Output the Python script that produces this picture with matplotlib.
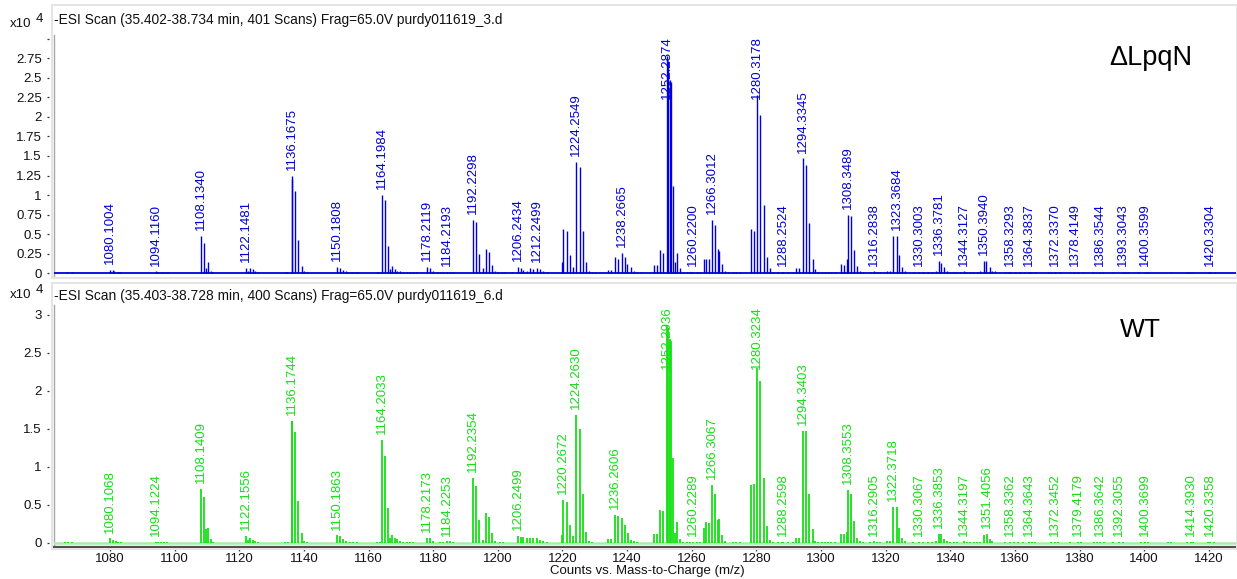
import matplotlib
matplotlib.use("Agg")
import matplotlib.pyplot as plt
from matplotlib.patches import Rectangle

plt.rcParams['font.family'] = ['Liberation Sans', 'DejaVu Sans']

W, H, DPI = 1237, 579, 100

# ---------------- spectra: (m/z, counts x 10^4) ----------------
dlpqn_peaks = [
    (1066.6, .015), (1068.1, .015),
    (1080.1004, .045), (1080.8, .04), (1081.3, .03), (1082.1, .015), (1082.7, .012), (1083.2, .012),
    (1094.1160, .02), (1094.9, .015), (1095.8, .015), (1096.5, .012), (1097.3, .012), (1098.0, .01),
    (1108.1340, .48), (1109.1, .38), (1109.6, .07), (1110.4, .14), (1111.2, .03), (1112.0, .012),
    (1122.1481, .07), (1122.8, .03), (1123.3, .07), (1124.1, .05), (1124.8, .03), (1125.7, .015),
    (1134.1, .012), (1134.8, .012), (1136.1675, 1.25), (1136.45, 1.2), (1137.3, 1.05), (1138.25, .42),
    (1139.3, .09), (1140.0, .03), (1140.8, .015),
    (1150.1808, .08), (1151.1, .07), (1152.2, .04), (1153.0, .02), (1153.7, .012), (1154.5, .012),
    (1155.3, .012), (1156.1, .012), (1156.8, .012),
    (1162.5, .012), (1163.3, .012), (1164.1984, 1.0), (1165.2, .93), (1166.1, .34), (1166.6, .05),
    (1167.2, .09), (1168.1, .05), (1168.9, .03), (1169.7, .02), (1170.7, .012), (1171.8, .012),
    (1172.8, .012), (1173.8, .012), (1174.8, .012),
    (1178.2119, .08), (1179.0, .07), (1180.0, .03), (1181.1, .015), (1182.1, .015), (1183.1, .012),
    (1184.2193, .015), (1185.2, .015), (1186.2, .012),
    (1192.2298, .68), (1193.2, .65), (1194.3, .24), (1195.3, .06), (1196.2, .31), (1197.2, .27),
    (1198.3, .10), (1199.1, .03), (1200.1, .012), (1201.2, .012), (1202.2, .012),
    (1204.3, .012), (1206.2434, .08), (1207.1, .06), (1207.9, .04), (1208.9, .03), (1210.1, .06),
    (1211.0, .05), (1212.2499, .07), (1213.0, .05), (1214.1, .02), (1215.1, .012),
    (1219.9, .14), (1220.25, .57), (1221.25, .54), (1222.25, .23), (1223.2, .08), (1224.2549, 1.42),
    (1225.3, 1.36), (1226.3, .54), (1227.3, .14), (1228.3, .03), (1229.2, .012), (1230.2, .012),
    (1234.2, .04), (1235.1, .04), (1236.2, .2), (1237.2, .18), (1238.2665, .26), (1239.2, .2),
    (1240.1, .12), (1241.2, .08), (1242.2, .02), (1243.2, .015), (1244.2, .012),
    (1248.3, .1), (1249.1, .1), (1250.2, .29), (1251.2, .26), (1252.2874, 2.78), (1252.55, 2.72),
    (1253.3, 2.48), (1253.55, 2.45), (1254.3, 1.11), (1254.9, .14), (1255.4, .26), (1256.3, .06),
    (1257.4, .012),
    (1258.4, .012), (1259.4, .012), (1260.2200, .015), (1261.5, .012), (1262.5, .012),
    (1263.8, .18), (1264.4, .18), (1265.3, .18), (1266.3012, .68), (1267.2, .62), (1268.0, .31),
    (1268.5, .28), (1269.3, .12), (1270.3, .03), (1271.3, .012),
    (1272.8, .012), (1273.8, .012), (1275.0, .012),
    (1278.2, .57), (1279.3, .54), (1280.3178, 2.28), (1281.1, 2.02), (1282.3, .87), (1283.3, .21),
    (1284.2, .06),
    (1285.2, .012), (1286.8, .012), (1287.8, .012), (1288.2524, .015), (1289.8, .012), (1291.4, .012),
    (1292.2, .06), (1293.2, .06), (1294.3345, 1.47), (1295.3, 1.39), (1296.3, .64), (1297.4, .18),
    (1298.2, .05),
    (1299.2, .012), (1300.2, .012), (1301.2, .012), (1302.2, .012), (1303.2, .012), (1304.2, .012),
    (1306.2, .11), (1307.1, .10), (1307.9, .18), (1308.3489, .74), (1309.4, .73), (1310.3, .30),
    (1311.2, .09), (1312.0, .03), (1313.1, .012),
    (1315.1, .012), (1316.2838, .02), (1317.2, .015), (1318.2, .012),
    (1320.3, .02), (1321.3, .02), (1322.4, .47), (1323.3684, .48), (1324.2, .23), (1325.1, .08),
    (1326.0, .03),
    (1328.5, .012), (1330.3003, .012), (1331.6, .012), (1333.2, .012), (1334.2, .012),
    (1335.5, .03), (1336.3781, .15), (1337.2, .13), (1338.1, .08), (1338.9, .03), (1339.9, .015),
    (1340.9, .012), (1341.9, .012), (1343.0, .012), (1344.3127, .02), (1345.0, .012), (1346.1, .012),
    (1347.1, .012), (1348.1, .012), (1349.2, .02),
    (1350.3940, .15), (1351.0, .15), (1352.3, .08), (1353.0, .03), (1353.8, .02),
    (1356.9, .012), (1357.9, .012), (1358.3293, .012), (1360.0, .012), (1361.5, .012), (1362.8, .012),
    (1364.3837, .012), (1365.1, .012), (1366.2, .012),
    (1370.3, .012), (1371.3, .012), (1372.3370, .012), (1373.9, .012), (1377.0, .012),
    (1378.4149, .012), (1379.6, .012), (1381.1, .012),
    (1384.2, .012), (1386.3544, .012), (1387.3, .012), (1390.4, .012), (1393.3043, .012),
    (1394.2, .012), (1395.0, .012), (1398.1, .012), (1400.3599, .012), (1401.2, .012),
    (1408.4, .012), (1413.1, .012), (1414.1, .012), (1415.1, .012), (1419.8, .012),
    (1420.3304, .012), (1421.9, .012),
]

dlpqn_labels = [
    "1080.1004", "1094.1160", "1108.1340", "1122.1481", "1136.1675", "1150.1808",
    "1164.1984", "1178.2119", "1184.2193", "1192.2298", "1206.2434", "1212.2499",
    "1224.2549", "1238.2665", "1252.2874", "1260.2200", "1266.3012", "1280.3178",
    "1288.2524", "1294.3345", "1308.3489", "1316.2838", "1323.3684", "1330.3003",
    "1336.3781", "1344.3127", "1350.3940", "1358.3293", "1364.3837", "1372.3370",
    "1378.4149", "1386.3544", "1393.3043", "1400.3599", "1420.3304",
]

wt_peaks = [
    (1066.1, .012), (1067.1, .012), (1068.1, .012),
    (1080.1068, .06), (1081.0, .045), (1081.9, .03), (1082.6, .012), (1083.3, .012),
    (1094.1224, .015), (1095.0, .015), (1095.9, .015), (1096.7, .012), (1097.5, .012),
    (1108.1409, .71), (1109.1, .61), (1109.6, .18), (1110.4, .20), (1111.2, .05), (1112.0, .012),
    (1122.1556, .09), (1122.8, .04), (1123.3, .06), (1124.1, .04), (1124.8, .03), (1125.9, .012),
    (1134.1, .012), (1135.2, .012), (1136.1744, 1.61), (1136.45, 1.61), (1137.3, 1.46), (1138.3, .55),
    (1139.3, .13), (1140.0, .03), (1140.8, .012),
    (1150.1863, .10), (1151.1, .09), (1152.2, .05), (1153.0, .02), (1154.2, .012), (1155.3, .012),
    (1156.3, .012),
    (1162.5, .012), (1163.5, .012), (1164.2033, 1.35), (1165.2, 1.14), (1166.1, .46), (1166.6, .07),
    (1167.2, .10), (1168.1, .06), (1168.9, .05), (1169.7, .03), (1170.7, .015), (1171.8, .012),
    (1172.8, .012), (1173.8, .012),
    (1178.2173, .07), (1179.0, .07), (1180.0, .03), (1182.1, .015), (1183.1, .015),
    (1184.2253, .02), (1185.2, .02), (1186.2, .012),
    (1192.2354, .86), (1193.2, .75), (1194.3, .30), (1195.3, .04), (1196.2, .39), (1197.2, .34),
    (1198.3, .13), (1199.2, .03), (1200.7, .012), (1201.7, .012),
    (1206.2499, .09), (1207.1, .08), (1207.9, .08), (1208.9, .07), (1209.9, .07), (1211.0, .07),
    (1212.0, .07), (1213.0, .04), (1214.1, .02), (1215.1, .012),
    (1219.9, .10), (1220.2672, .57), (1221.3, .54), (1222.3, .23), (1223.2, .09), (1224.2630, 1.68),
    (1225.3, 1.50), (1226.3, .64), (1227.2, .15), (1228.1, .03), (1229.0, .012),
    (1234.2, .05), (1235.1, .05), (1236.2606, .37), (1237.2, .35), (1238.3, .33), (1239.2, .24),
    (1240.2, .13), (1241.2, .04), (1242.2, .02), (1243.2, .012),
    (1248.3, .12), (1249.1, .12), (1250.2, .44), (1251.2, .42), (1252.2936, 2.86), (1252.55, 2.83),
    (1253.3, 2.68), (1253.55, 2.66), (1254.3, 1.12), (1254.9, .13), (1255.4, .28), (1256.3, .05),
    (1257.4, .012),
    (1258.4, .012), (1259.4, .012), (1260.2289, .012), (1261.5, .012), (1262.5, .012),
    (1263.8, .20), (1264.4, .28), (1265.3, .26), (1266.3067, .76), (1267.2, .65), (1268.0, .30),
    (1268.5, .31), (1269.3, .10), (1270.3, .02),
    (1272.8, .012), (1273.8, .012), (1275.0, .012),
    (1278.2, .76), (1279.3, .77), (1280.3234, 2.30), (1281.1, 2.13), (1282.3, .86), (1283.3, .22),
    (1284.2, .04),
    (1285.2, .012), (1286.8, .012), (1287.8, .012), (1288.2598, .015), (1289.8, .012), (1291.4, .012),
    (1292.2, .07), (1293.2, .07), (1294.3403, 1.47), (1295.3, 1.47), (1296.3, .65), (1297.4, .18),
    (1298.2, .03),
    (1299.2, .012), (1300.2, .012), (1301.2, .012), (1302.2, .012), (1303.2, .012), (1304.2, .012),
    (1306.2, .12), (1307.1, .12), (1307.9, .15), (1308.3553, .70), (1309.4, .65), (1310.3, .29),
    (1311.2, .07), (1312.0, .03), (1313.1, .012),
    (1315.1, .012), (1316.2905, .02), (1317.2, .015), (1318.2, .012),
    (1320.5, .02), (1321.3, .03), (1322.3718, .47), (1323.4, .47), (1324.2, .20), (1325.1, .06),
    (1326.0, .02),
    (1328.5, .012), (1330.3067, .012), (1331.6, .012), (1333.2, .012), (1334.2, .012),
    (1335.5, .02), (1336.3853, .12), (1337.2, .12), (1338.1, .05), (1338.9, .02), (1339.9, .012),
    (1341.0, .012), (1342.0, .012), (1344.3197, .02), (1345.1, .012), (1346.2, .012),
    (1347.2, .012), (1348.3, .012), (1349.2, .012),
    (1350.4, .10), (1351.4056, .12), (1352.3, .05), (1353.0, .02),
    (1357.0, .012), (1358.3362, .012), (1359.6, .012), (1361.0, .012), (1362.5, .012),
    (1364.3643, .012), (1365.3, .012), (1366.3, .012),
    (1371.0, .012), (1372.3452, .012), (1373.4, .012), (1377.0, .012), (1379.4179, .012),
    (1380.3, .012), (1384.3, .012), (1385.3, .012), (1386.3642, .012), (1387.4, .012),
    (1390.4, .012), (1392.3055, .012), (1393.5, .012), (1399.0, .012), (1400.3699, .012),
    (1401.3, .012),
    (1407.4, .012), (1408.2, .012), (1413.3, .012), (1414.3930, .012), (1415.2, .012),
    (1419.6, .012), (1420.3358, .012), (1421.5, .012),
]

wt_labels = [
    "1080.1068", "1094.1224", "1108.1409", "1122.1556", "1136.1744", "1150.1863",
    "1164.2033", "1178.2173", "1184.2253", "1192.2354", "1206.2499", "1220.2672",
    "1224.2630", "1236.2606", "1252.2936", "1260.2289", "1266.3067", "1280.3234",
    "1288.2598", "1294.3403", "1308.3553", "1316.2905", "1322.3718", "1330.3067",
    "1336.3853", "1344.3197", "1351.4056", "1358.3362", "1364.3643", "1372.3452",
    "1379.4179", "1386.3642", "1392.3055", "1400.3699", "1414.3930", "1420.3358",
]

top_header = "-ESI Scan (35.402-38.734 min, 401 Scans) Frag=65.0V purdy011619_3.d"
bottom_header = "-ESI Scan (35.403-38.728 min, 400 Scans) Frag=65.0V purdy011619_6.d"
top_name = "\u0394LpqN"
bottom_name = "WT"
x_title = "Counts vs. Mass-to-Charge (m/z)"

x_ticks = list(range(1080, 1421, 20))
top_yticks = [0, 0.25, 0.5, 0.75, 1, 1.25, 1.5, 1.75, 2, 2.25, 2.5, 2.75, 3]
top_yticklabels = ["0", "0.25", "0.5", "0.75", "1", "1.25", "1.5", "1.75", "2",
                   "2.25", "2.5", "2.75", ""]
bottom_yticks = [0, 0.5, 1, 1.5, 2, 2.5, 3]
bottom_yticklabels = ["0", "0.5", "1", "1.5", "2", "2.5", "3"]

BLUE = "#0000dc"
GREEN = "#14e014"
BASE_GREEN = "#a6eea6"
FS = 9.5
HEADER_FS = 9.9

# ---------------- figure layout ----------------
fig = plt.figure(figsize=(W / DPI, H / DPI), dpi=DPI)
fig.patch.set_facecolor("white")


def px_axes(left, top, right, bottom):
    return fig.add_axes([left / W, 1 - bottom / H, (right - left) / W, (bottom - top) / H])


def frame(left, top, right, bottom):
    fig.patches.append(Rectangle((left / W, 1 - bottom / H), (right - left) / W,
                                 (bottom - top) / H, transform=fig.transFigure,
                                 fill=False, ec="#e4e4e4", lw=1.4, zorder=0))


frame(52, 5, 1237, 278)
frame(52, 283, 1237, 549)

ax1 = px_axes(54, 35, 1237, 277)
ax2 = px_axes(54, 305, 1237, 547)
XLIM = (1062.67, 1428.7)


def style_axis(ax, ylim, yticks, yticklabels):
    ax.set_xlim(*XLIM)
    ax.set_ylim(*ylim)
    ax.patch.set_alpha(0)
    for side in ("top", "right", "bottom"):
        ax.spines[side].set_visible(False)
    ax.spines["left"].set_position(("outward", 3.3))
    ax.spines["left"].set_visible(False)
    ax.plot([0, 0], [0, 1], transform=ax.transAxes, color="#a8a8a8", lw=1.0,
            clip_on=False, zorder=1)
    ax.set_yticks(yticks)
    ax.set_yticklabels(yticklabels)
    ax.tick_params(axis="y", direction="out", length=1.8, width=0.9, color="#333333",
                   pad=3.6, labelsize=FS, labelcolor="#111111")


style_axis(ax1, (-0.051, 3.051), top_yticks, top_yticklabels)
style_axis(ax2, (-0.053, 3.13), bottom_yticks, bottom_yticklabels)

ax1.set_xticks([])
ax2.spines["bottom"].set_visible(True)
ax2.spines["bottom"].set_color("#505050")
ax2.spines["bottom"].set_linewidth(1.6)
ax2.set_xticks(x_ticks)
ax2.tick_params(axis="x", direction="out", length=3.0, width=1.0, color="#505050",
                pad=1.5, labelsize=FS, labelcolor="#111111")

# baselines
ax1.axhline(0, color=BLUE, lw=1.3, zorder=2)
ax2.axhline(0, color=BASE_GREEN, lw=1.8, zorder=1)

# stick spectra
for ax, peaks, color, lw in ((ax1, dlpqn_peaks, BLUE, 1.0), (ax2, wt_peaks, GREEN, 1.3)):
    mz = [p[0] for p in peaks]
    counts = [p[1] for p in peaks]
    ax.vlines(mz, 0, counts, colors=color, lw=lw, zorder=3)


def label_peaks(ax, peaks, labels, color):
    lookup = dict(peaks)
    texts = []
    for lab in labels:
        mz = float(lab)
        t = ax.annotate(lab, (mz, lookup[mz]), xytext=(0, 4.2), textcoords="offset points",
                        rotation=90, ha="center", va="bottom", color=color, fontsize=FS,
                        zorder=4, annotation_clip=False)
        texts.append(t)
    return texts


top_texts = label_peaks(ax1, dlpqn_peaks, dlpqn_labels, BLUE)
bottom_texts = label_peaks(ax2, wt_peaks, wt_labels, GREEN)

# headers and panel names
fig.text(54 / W, 1 - 20 / H, top_header, ha="left", va="center", fontsize=HEADER_FS, color="#111111")
fig.text(54 / W, 1 - 296 / H, bottom_header, ha="left", va="center", fontsize=HEADER_FS, color="#111111")
for yc in (24, 295):
    fig.text(10 / W, 1 - yc / H, "x10", ha="left", va="center", fontsize=FS, color="#111111")
    fig.text(36 / W, 1 - (yc - 5) / H, "4", ha="left", va="center", fontsize=FS, color="#111111")

fig.text(1151 / W, 1 - 58 / H, top_name, ha="center", va="center", fontsize=19.5, color="black")
fig.text(1140 / W, 1 - 330 / H, bottom_name, ha="center", va="center", fontsize=19, color="black")
fig.text(647 / W, 1 - 571 / H, x_title, ha="center", va="center", fontsize=FS, color="#111111")

# keep peak labels inside the plotting area
fig.canvas.draw()
renderer = fig.canvas.get_renderer()
for ax, texts in ((ax1, top_texts), (ax2, bottom_texts)):
    top = ax.get_window_extent(renderer).y1 - 1
    for t in texts:
        bb = t.get_window_extent(renderer)
        if bb.y1 > top:
            dx, dy = t.xyann
            t.xyann = (dx, dy - (bb.y1 - top) * 72.0 / DPI)

fig.savefig("out.png", dpi=DPI)
